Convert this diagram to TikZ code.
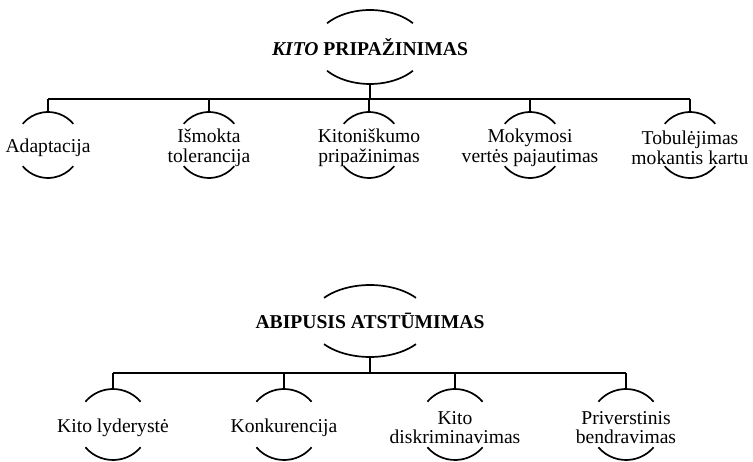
\documentclass[tikz,border=0pt]{standalone}
\usepackage{fontspec}
\setmainfont{Liberation Serif}

\tikzset{
  leaf/.style={font=\fontsize{19.6}{19.6}\selectfont, align=center, inner sep=0pt, yshift=-3pt},
  head/.style={font=\fontsize{19.6}{19.6}\selectfont\bfseries, inner sep=0pt},
  link/.style={line width=1.7pt},
}
% two arcs, above and below a node centre (#1 = lift of the arcs)
\newcommand\capsarcs[4][0pt]{%
  \draw[link] ([shift={(40:#3 and #4)},yshift=#1]#2.center) arc[start angle=40,end angle=140,x radius=#3,y radius=#4];
  \draw[link] ([shift={(220:#3 and #4)},yshift=#1]#2.center) arc[start angle=220,end angle=320,x radius=#3,y radius=#4];}

\begin{document}
\begin{tikzpicture}[x=1pt,y=1pt]
\useasboundingbox (0,0) rectangle (753,461);

%% upper tree
\node[head] (kito) at (370,414) {\textit{KITO} PRIPAŽINIMAS};
\capsarcs{kito}{56pt}{37pt}
\coordinate (barAl) at (48,362);
\coordinate (barAr) at (690,362);
\draw[link] (barAl) -- (barAr);
\draw[link] ([yshift=-37pt]kito.center) -- (kito |- barAl);

\node[leaf] (adapt) at (48,316) {Adaptacija};
\node[leaf] (ismok) at (209,316) {Išmokta\\tolerancija};
\node[leaf] (kiton) at (369,316) {Kitoniškumo\\pripažinimas};
\node[leaf] (mokym) at (530,316) {Mokymosi\\vertės pajautimas};
\node[leaf] (tobul) at (690,316) {Tobulėjimas\\mokantis kartu};

\foreach \n in {adapt,ismok,kiton,mokym,tobul}{
  \capsarcs[3pt]{\n}{33pt}{33pt}
  \draw[link] ([yshift=36pt]\n.center) -- (\n |- barAl);
}

%% lower tree
\node[head] (abip) at (370,140) {ABIPUSIS ATSTŪMIMAS};
\capsarcs{abip}{60pt}{36pt}
\coordinate (barBl) at (113,88);
\coordinate (barBr) at (626,88);
\draw[link] (barBl) -- (barBr);
\draw[link] ([yshift=-36pt]abip.center) -- (abip |- barBl);

\node[leaf] (lyder) at (113,36.5) {Kito lyderystė};
\node[leaf] (konk) at (284,36.5) {Konkurencija};
\node[leaf] (diskr) at (455,36.5) {Kito\\diskriminavimas};
\node[leaf] (priv) at (626,36.5) {Priverstinis\\bendravimas};

\foreach \n in {lyder,konk,diskr,priv}{
  \capsarcs[3pt]{\n}{36pt}{35.5pt}
  \draw[link] ([yshift=38.5pt]\n.center) -- (\n |- barBl);
}
\end{tikzpicture}
\end{document}
